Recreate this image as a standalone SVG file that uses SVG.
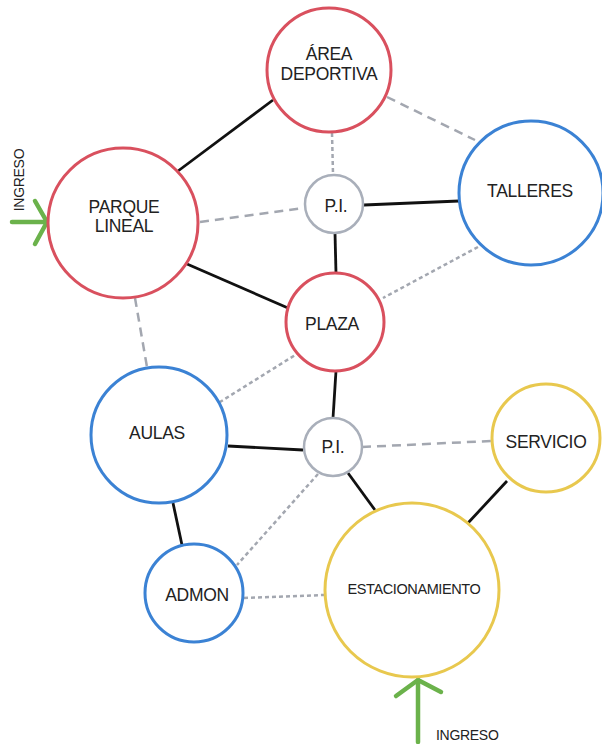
<svg xmlns="http://www.w3.org/2000/svg" width="602" height="744" viewBox="0 0 602 744">
  <style>
    .node { fill: #ffffff; stroke-width: 3; }
    .red { stroke: #d9505e; }
    .blue { stroke: #3b82d4; }
    .yellow { stroke: #e8c84e; }
    .pi { stroke: #a9afba; stroke-width: 2.5; }
    .lbl { font-family: "Liberation Sans", Arial, sans-serif; font-size: 17.5px; fill: #222222; text-anchor: middle; letter-spacing: -0.3px; }
    .small { font-size: 14.5px; letter-spacing: -0.4px; }
    .solid { stroke: #111111; stroke-width: 2.8; fill: none; }
    .dash { stroke: #a3a7b0; stroke-width: 2.5; fill: none; stroke-dasharray: 9 6; }
    .dot { stroke: #a3a7b0; stroke-width: 2.5; fill: none; stroke-dasharray: 4 3; }
    .entry { stroke: #6bb24b; stroke-width: 4.5; fill: none; stroke-linecap: round; stroke-linejoin: round; }
    .entry-text { font-family: "Liberation Sans", Arial, sans-serif; font-size: 14px; fill: #222222; letter-spacing: -0.3px; }
  </style>

  <!-- connectors -->
  <g id="connectors">
    <line class="solid" x1="178" y1="171" x2="273" y2="100"/>
    <line class="solid" x1="187" y1="264" x2="288" y2="308"/>
    <line class="solid" x1="364" y1="205" x2="459" y2="201"/>
    <line class="solid" x1="335" y1="233" x2="336" y2="273"/>
    <line class="solid" x1="336" y1="371" x2="333" y2="418"/>
    <line class="solid" x1="228" y1="446" x2="303" y2="450"/>
    <line class="solid" x1="173" y1="503" x2="182" y2="545"/>
    <line class="solid" x1="348" y1="473" x2="375" y2="510"/>
    <line class="solid" x1="507" y1="481" x2="468" y2="523"/>

    <line class="dash" x1="200" y1="222" x2="304" y2="208"/>
    <line class="dot" x1="332" y1="133" x2="333" y2="174"/>
    <line class="dash" x1="387" y1="97" x2="475" y2="140"/>
    <line class="dot" x1="478" y1="247" x2="383" y2="298"/>
    <line class="dash" x1="135" y1="298" x2="147" y2="367"/>
    <line class="dot" x1="300" y1="352" x2="220" y2="402"/>
    <line class="dash" x1="362" y1="447" x2="491" y2="441"/>
    <line class="dot" x1="318" y1="474" x2="237" y2="565"/>
    <line class="dot" x1="244" y1="598" x2="324" y2="595"/>
  </g>

  <!-- entrances -->
  <g id="ingreso-oeste">
    <line class="entry" x1="12" y1="222" x2="47" y2="222"/>
    <polyline class="entry" points="35,201 47,222 35,244"/>
    <text class="entry-text" transform="translate(24 180) rotate(-90)" text-anchor="middle">INGRESO</text>
  </g>
  <g id="ingreso-sur">
    <line class="entry" x1="418" y1="742" x2="418" y2="680"/>
    <polyline class="entry" points="396,696 418,680 441,692"/>
    <text class="entry-text" x="436" y="740">INGRESO</text>
  </g>

  <!-- nodes -->
  <g id="area-deportiva">
    <circle class="node red" cx="329" cy="70" r="62"/>
    <text class="lbl" x="329" y="60">ÁREA</text>
    <text class="lbl" x="329" y="80">DEPORTIVA</text>
  </g>
  <g id="parque-lineal">
    <circle class="node red" cx="123" cy="223" r="75"/>
    <text class="lbl" x="124" y="213">PARQUE</text>
    <text class="lbl" x="124" y="232">LINEAL</text>
  </g>
  <g id="pi-norte">
    <circle class="node pi" cx="334" cy="204" r="29"/>
    <text class="lbl" x="336" y="212">P.I.</text>
  </g>
  <g id="talleres">
    <circle class="node blue" cx="531" cy="193" r="72"/>
    <text class="lbl" x="530" y="197">TALLERES</text>
  </g>
  <g id="plaza">
    <circle class="node red" cx="335" cy="322" r="49"/>
    <text class="lbl" x="332" y="330">PLAZA</text>
  </g>
  <g id="aulas">
    <circle class="node blue" cx="159" cy="435" r="68"/>
    <text class="lbl" x="157" y="439">AULAS</text>
  </g>
  <g id="pi-sur">
    <circle class="node pi" cx="333" cy="447" r="29"/>
    <text class="lbl" x="333" y="453">P.I.</text>
  </g>
  <g id="servicio">
    <circle class="node yellow" cx="546" cy="438" r="54"/>
    <text class="lbl" x="546" y="448">SERVICIO</text>
  </g>
  <g id="admon">
    <circle class="node blue" cx="194" cy="593" r="49"/>
    <text class="lbl" x="197" y="601">ADMON</text>
  </g>
  <g id="estacionamiento">
    <circle class="node yellow" cx="412" cy="590" r="87"/>
    <text class="lbl small" x="414" y="594">ESTACIONAMIENTO</text>
  </g>
</svg>
